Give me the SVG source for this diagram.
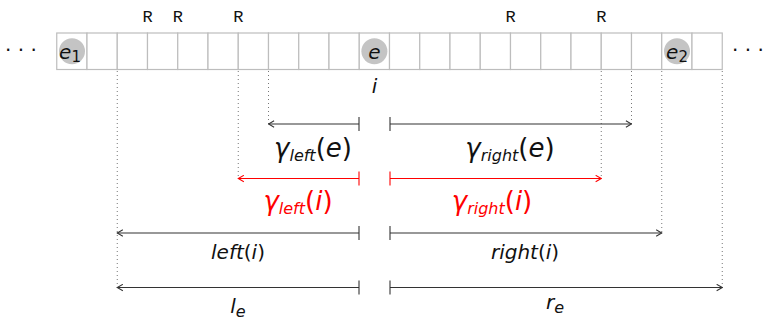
<svg xmlns="http://www.w3.org/2000/svg" width="764" height="321" viewBox="0 0 764 321">
<defs>
<style>
.cell{fill:#fff;stroke:#bdbdbd;stroke-width:1.2}
.tok{fill:#c4c4c4}
.dot{stroke:#777;stroke-width:1;stroke-dasharray:1 3;fill:none}
.ar{stroke:#333;stroke-width:1.1;fill:none}
.red{stroke:#ff0000}
.lab{font-family:"DejaVu Sans","Liberation Sans",sans-serif;font-size:20px;fill:#111;text-anchor:middle}
.rl{fill:#ff0000}
.it{font-style:italic}
.sub{font-size:16px;font-style:italic}
.big{font-size:26px}
.ell{font-family:"DejaVu Sans",sans-serif;font-size:20px;fill:#111}
</style>
<marker id="hb" viewBox="0 0 10 10" refX="9" refY="5" markerWidth="8" markerHeight="8" markerUnits="userSpaceOnUse" orient="auto-start-reverse">
<path d="M2,1 L9,5 L2,9" fill="none" stroke="#333" stroke-width="1.3"/>
</marker>
<marker id="hr" viewBox="0 0 10 10" refX="9" refY="5" markerWidth="8" markerHeight="8" markerUnits="userSpaceOnUse" orient="auto-start-reverse">
<path d="M2,1 L9,5 L2,9" fill="none" stroke="#ff0000" stroke-width="1.3"/>
</marker>
</defs>
<rect width="764" height="321" fill="#fff"/>

<g id="array">
<rect class="cell" x="56.75" y="33" width="30.25" height="36.5"/>
<rect class="cell" x="87" y="33" width="30.25" height="36.5"/>
<rect class="cell" x="117.25" y="33" width="30.25" height="36.5"/>
<rect class="cell" x="147.5" y="33" width="30.25" height="36.5"/>
<rect class="cell" x="177.75" y="33" width="30.25" height="36.5"/>
<rect class="cell" x="208" y="33" width="30.25" height="36.5"/>
<rect class="cell" x="238.25" y="33" width="30.25" height="36.5"/>
<rect class="cell" x="268.5" y="33" width="30.25" height="36.5"/>
<rect class="cell" x="298.75" y="33" width="30.25" height="36.5"/>
<rect class="cell" x="329" y="33" width="30.25" height="36.5"/>
<rect class="cell" x="359.25" y="33" width="30.25" height="36.5"/>
<rect class="cell" x="389.5" y="33" width="30.25" height="36.5"/>
<rect class="cell" x="419.75" y="33" width="30.25" height="36.5"/>
<rect class="cell" x="450" y="33" width="30.25" height="36.5"/>
<rect class="cell" x="480.25" y="33" width="30.25" height="36.5"/>
<rect class="cell" x="510.5" y="33" width="30.25" height="36.5"/>
<rect class="cell" x="540.75" y="33" width="30.25" height="36.5"/>
<rect class="cell" x="571" y="33" width="30.25" height="36.5"/>
<rect class="cell" x="601.25" y="33" width="30.25" height="36.5"/>
<rect class="cell" x="631.5" y="33" width="30.25" height="36.5"/>
<rect class="cell" x="661.75" y="33" width="30.25" height="36.5"/>
<rect class="cell" x="692" y="33" width="30.25" height="36.5"/>
</g>

<g id="ellipsis-left"><text class="ell" x="5" y="57">· · ·</text></g>
<g id="ellipsis-right"><text class="ell" x="732" y="57">· · ·</text></g>

<g id="e1">
<circle class="tok" cx="72" cy="51.2" r="13"/>
<text class="lab it" x="70" y="58.5" font-size="22">e<tspan style="font-style:normal;font-size:15px" dy="3">1</tspan></text>
</g>
<g id="e">
<circle class="tok" cx="374.4" cy="51.2" r="13"/>
<text class="lab it" x="374.4" y="58.5" font-size="22">e</text>
</g>
<g id="e2">
<circle class="tok" cx="677" cy="51.2" r="13"/>
<text class="lab it" x="677" y="58.5" font-size="22">e<tspan style="font-style:normal;font-size:15px" dy="3">2</tspan></text>
</g>
<g id="i-label"><text class="lab it" x="374.5" y="93" font-size="17">i</text></g>

<g id="R-marks" font-family="'Liberation Mono', 'Courier New', monospace" font-size="17" fill="#111" text-anchor="middle">
<text x="147.5" y="22">R</text>
<text x="177.75" y="22">R</text>
<text x="238.25" y="22">R</text>
<text x="510.5" y="22">R</text>
<text x="601.25" y="22">R</text>
</g>

<g id="guides">
<line class="dot" x1="117.25" y1="71" x2="117.25" y2="288"/>
<line class="dot" x1="238.25" y1="71" x2="238.25" y2="178"/>
<line class="dot" x1="268.5" y1="71" x2="268.5" y2="124"/>
<line class="dot" x1="601.25" y1="71" x2="601.25" y2="178"/>
<line class="dot" x1="631.5" y1="71" x2="631.5" y2="124"/>
<line class="dot" x1="661.75" y1="71" x2="661.75" y2="233"/>
<line class="dot" x1="722.25" y1="71" x2="722.25" y2="288"/>
</g>

<g id="connectors">
<line class="ar" x1="359" y1="124" x2="268.5" y2="124" marker-end="url(#hb)"/>
<line class="ar" x1="359" y1="117" x2="359" y2="131"/>
<line class="ar" x1="390" y1="124" x2="631.5" y2="124" marker-end="url(#hb)"/>
<line class="ar" x1="390" y1="117" x2="390" y2="131"/>
<line class="ar red" x1="359" y1="178.5" x2="238.25" y2="178.5" marker-end="url(#hr)"/>
<line class="ar red" x1="359" y1="171.5" x2="359" y2="185.5"/>
<line class="ar red" x1="390" y1="178.5" x2="601.25" y2="178.5" marker-end="url(#hr)"/>
<line class="ar red" x1="390" y1="171.5" x2="390" y2="185.5"/>
<line class="ar" x1="359" y1="233" x2="117.25" y2="233" marker-end="url(#hb)"/>
<line class="ar" x1="359" y1="226" x2="359" y2="240"/>
<line class="ar" x1="390" y1="233" x2="661.75" y2="233" marker-end="url(#hb)"/>
<line class="ar" x1="390" y1="226" x2="390" y2="240"/>
<line class="ar" x1="359" y1="287.5" x2="117.25" y2="287.5" marker-end="url(#hb)"/>
<line class="ar" x1="359" y1="280.5" x2="359" y2="294.5"/>
<line class="ar" x1="390" y1="287.5" x2="722.25" y2="287.5" marker-end="url(#hb)"/>
<line class="ar" x1="390" y1="280.5" x2="390" y2="294.5"/>
</g>

<g id="labels">
<text class="lab" x="313" y="157"><tspan class="it big">γ</tspan><tspan class="sub" dy="4">left</tspan><tspan class="big" dy="-4">(</tspan><tspan class="it big">e</tspan><tspan class="big">)</tspan></text>
<text class="lab" x="510" y="157"><tspan class="it big">γ</tspan><tspan class="sub" dy="4">right</tspan><tspan class="big" dy="-4">(</tspan><tspan class="it big">e</tspan><tspan class="big">)</tspan></text>
<text class="lab rl" x="298" y="210"><tspan class="it big">γ</tspan><tspan class="sub" dy="4">left</tspan><tspan class="big" dy="-4">(</tspan><tspan class="it big">i</tspan><tspan class="big">)</tspan></text>
<text class="lab rl" x="492" y="210"><tspan class="it big">γ</tspan><tspan class="sub" dy="4">right</tspan><tspan class="big" dy="-4">(</tspan><tspan class="it big">i</tspan><tspan class="big">)</tspan></text>
<text class="lab" x="238" y="259" font-size="18"><tspan class="it">left</tspan>(<tspan class="it">i</tspan>)</text>
<text class="lab" x="525" y="259" font-size="18"><tspan class="it">right</tspan>(<tspan class="it">i</tspan>)</text>
<text class="lab it" x="238" y="313" font-size="24">l<tspan font-size="16" dy="4">e</tspan></text>
<text class="lab it" x="555" y="309" font-size="24">r<tspan font-size="16" dy="4">e</tspan></text>
</g>
</svg>
